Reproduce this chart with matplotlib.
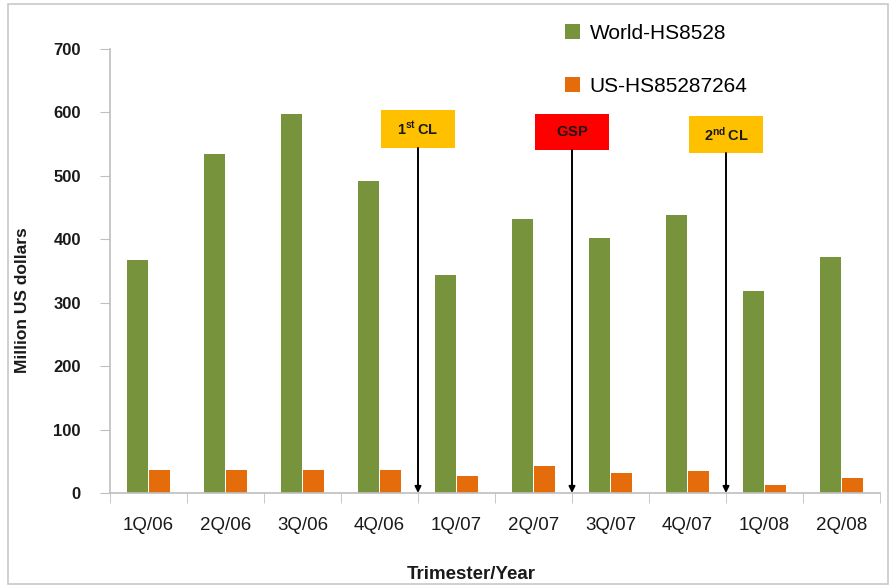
import matplotlib
matplotlib.use("Agg")
import matplotlib.pyplot as plt
from matplotlib.patches import Rectangle
import numpy as np

plt.rcParams['font.family'] = ['Liberation Sans', 'DejaVu Sans']
plt.rcParams['mathtext.fontset'] = 'custom'
plt.rcParams['mathtext.rm'] = 'Liberation Sans'
plt.rcParams['mathtext.bf'] = 'Liberation Sans:bold'

quarters = ["1Q/06", "2Q/06", "3Q/06", "4Q/06", "1Q/07",
            "2Q/07", "3Q/07", "4Q/07", "1Q/08", "2Q/08"]
world_hs8528 = [367, 534, 598, 492, 344, 432, 402, 438, 319, 372]
us_hs85287264 = [36, 36, 36, 36, 27, 43, 32, 35, 12, 23]

# policy events on the boundaries between quarters
event_labels = [r"$\mathbf{1^{st}\,CL}$", r"$\mathbf{GSP}$", r"$\mathbf{2^{nd}\,CL}$"]
event_positions = [4, 6, 8]
event_colors = ["#FFC000", "#FF0000", "#FFC000"]
event_bottoms = [544, 541, 536]
event_tops = [604, 598, 595]

green = "#77933C"
orange = "#E46C0A"
axis_gray = "#BFBFBF"

fig = plt.figure(figsize=(8.93, 5.88), dpi=100)
ax = fig.add_axes([110 / 893, 1 - 493 / 588, 770 / 893, 444 / 588])

x = np.arange(len(quarters)) + 0.5
w = 0.28
ax.bar(x - 0.145, world_hs8528, width=w, color=green, label="World-HS8528", zorder=2)
ax.bar(x + 0.145, us_hs85287264, width=w, color=orange, label="US-HS85287264", zorder=2)

for lab, pos, col, b, t in zip(event_labels, event_positions, event_colors,
                               event_bottoms, event_tops):
    ax.add_patch(Rectangle((pos - 0.48, b), 0.96, t - b, facecolor=col,
                           edgecolor="none", zorder=3))
    ax.text(pos, (b + t) / 2, lab, ha="center", va="center", fontsize=10.5,
            color="#1a1a1a", zorder=4)
    ax.annotate("", xy=(pos, 0), xytext=(pos, b),
                arrowprops=dict(arrowstyle="-|>", color="black", lw=1.4,
                                mutation_scale=9, shrinkA=0, shrinkB=0),
                zorder=4)

ax.set_xlim(0, len(quarters))
ax.set_ylim(0, 700)
ax.set_yticks(np.arange(0, 701, 100))
ax.set_xticks(x)
ax.set_xticklabels(quarters, fontsize=13.5)
ax.set_xticks(np.arange(0, len(quarters) + 1), minor=True)
ax.tick_params(axis="x", which="major", length=0, pad=17, colors="#1a1a1a")
ax.tick_params(axis="x", which="minor", length=7, color=axis_gray, direction="out")
ax.tick_params(axis="y", length=7, color=axis_gray, pad=14, labelsize=12,
               labelcolor="#1a1a1a")
for t in ax.get_yticklabels():
    t.set_fontweight("bold")

for s in ["top", "right"]:
    ax.spines[s].set_visible(False)
for s in ["left", "bottom"]:
    ax.spines[s].set_color(axis_gray)
    ax.spines[s].set_linewidth(1.2)

ax.set_ylabel("Million US dollars", fontsize=12.5, fontweight="bold", color="#1a1a1a")
ax.yaxis.set_label_coords(-0.104, 0.435)
ax.set_xlabel("Trimester/Year", fontsize=13.5, fontweight="bold", color="#1a1a1a")
ax.xaxis.set_label_coords(0.469, -0.165)

leg = fig.legend(loc="upper left", bbox_to_anchor=(546 / 893, 1 - 5 / 588),
                 frameon=False, fontsize=15, handlelength=0.75, handleheight=0.75,
                 labelspacing=1.65, handletextpad=0.45)

# thin outer frame
fig.add_artist(Rectangle((8 / 893, 4 / 588), 880 / 893, 580 / 588,
                         transform=fig.transFigure, fill=False,
                         edgecolor="#C8C8C8", lw=1.2))

fig.savefig("out.png", dpi=100)
